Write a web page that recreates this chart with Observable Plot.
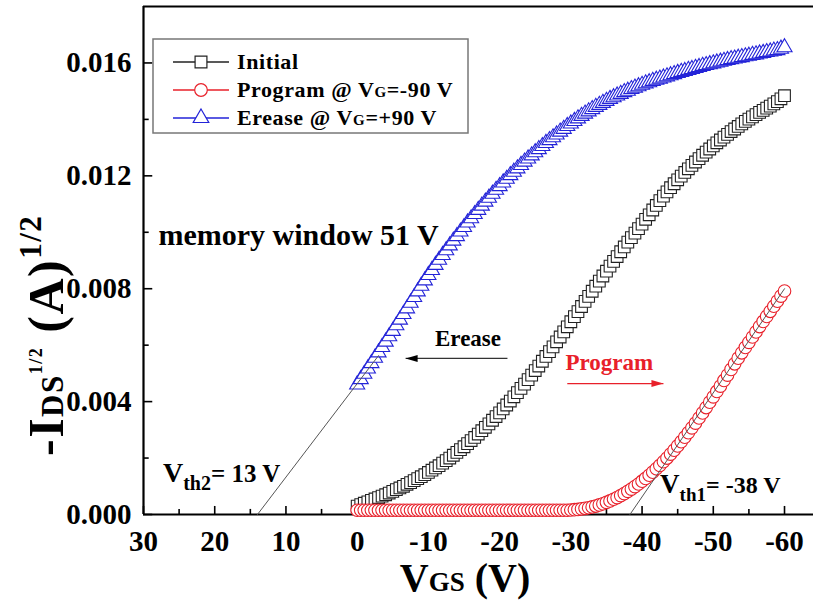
<!DOCTYPE html>
<html><head><meta charset="utf-8">
<script src="https://cdn.jsdelivr.net/npm/d3@7"></script>
<script src="https://cdn.jsdelivr.net/npm/@observablehq/plot@0.6"></script>
<style>body{margin:0;background:#fff} svg{display:block}</style>
</head><body><div id="chart"></div>
<script>
// Gate voltage sweep (V)
const vgs = [0,-0.5,-1,-1.5,-2,-2.5,-3,-3.5,-4,-4.5,-5,-5.5,-6,-6.5,-7,-7.5,-8,-8.5,-9,-9.5,
-10,-10.5,-11,-11.5,-12,-12.5,-13,-13.5,-14,-14.5,-15,-15.5,-16,-16.5,-17,-17.5,-18,-18.5,-19,-19.5,
-20,-20.5,-21,-21.5,-22,-22.5,-23,-23.5,-24,-24.5,-25,-25.5,-26,-26.5,-27,-27.5,-28,-28.5,-29,-29.5,
-30,-30.5,-31,-31.5,-32,-32.5,-33,-33.5,-34,-34.5,-35,-35.5,-36,-36.5,-37,-37.5,-38,-38.5,-39,-39.5,
-40,-40.5,-41,-41.5,-42,-42.5,-43,-43.5,-44,-44.5,-45,-45.5,-46,-46.5,-47,-47.5,-48,-48.5,-49,-49.5,
-50,-50.5,-51,-51.5,-52,-52.5,-53,-53.5,-54,-54.5,-55,-55.5,-56,-56.5,-57,-57.5,-58,-58.5,-59,-59.5,-60];
// -I_DS^1/2 (A^1/2)
const initial = [0.00030,0.00035,0.00040,0.00045,0.00050,0.00055,0.00060,0.00065,0.00070,0.00076,
0.00082,0.00088,0.00094,0.00100,0.00107,0.00113,0.00120,0.00127,0.00134,0.00141,
0.00149,0.00157,0.00165,0.00173,0.00182,0.00191,0.00200,0.00210,0.00220,0.00230,
0.00240,0.00251,0.00262,0.00273,0.00285,0.00297,0.00309,0.00321,0.00334,0.00347,
0.00360,0.00374,0.00388,0.00402,0.00417,0.00432,0.00447,0.00462,0.00478,0.00494,
0.00510,0.00526,0.00543,0.00560,0.00577,0.00594,0.00612,0.00629,0.00647,0.00665,
0.00683,0.00701,0.00719,0.00737,0.00755,0.00773,0.00791,0.00809,0.00827,0.00845,
0.00862,0.00880,0.00897,0.00914,0.00931,0.00948,0.00965,0.00981,0.00997,0.01013,
0.01029,0.01046,0.01062,0.01079,0.01095,0.01112,0.01128,0.01143,0.01158,0.01172,
0.01186,0.01199,0.01212,0.01225,0.01237,0.01249,0.01261,0.01273,0.01284,0.01295,
0.01306,0.01317,0.01327,0.01337,0.01347,0.01357,0.01366,0.01375,0.01384,0.01393,
0.01401,0.01409,0.01417,0.01425,0.01432,0.01440,0.01447,0.01455,0.01463,0.01473,
0.01484];
const program = [0.00015,0.00015,0.00015,0.00015,0.00015,0.00015,0.00015,0.00015,0.00015,0.00015,
0.00015,0.00015,0.00015,0.00015,0.00015,0.00015,0.00015,0.00015,0.00015,0.00015,
0.00015,0.00015,0.00015,0.00015,0.00015,0.00015,0.00015,0.00015,0.00015,0.00015,
0.00015,0.00015,0.00015,0.00015,0.00015,0.00015,0.00015,0.00015,0.00015,0.00015,
0.00015,0.00015,0.00015,0.00015,0.00015,0.00015,0.00015,0.00015,0.00015,0.00015,
0.00015,0.00015,0.00015,0.00015,0.00015,0.00015,0.00015,0.00015,0.00015,0.00015,
0.00016,0.00017,0.00018,0.00020,0.00022,0.00024,0.00027,0.00030,0.00034,0.00038,
0.00043,0.00048,0.00054,0.00060,0.00067,0.00074,0.00082,0.00090,0.00099,0.00108,
0.00118,0.00128,0.00139,0.00150,0.00162,0.00174,0.00187,0.00200,0.00214,0.00228,
0.00243,0.00258,0.00274,0.00290,0.00307,0.00324,0.00342,0.00360,0.00379,0.00398,
0.00417,0.00436,0.00455,0.00475,0.00494,0.00514,0.00534,0.00554,0.00573,0.00592,
0.00610,0.00629,0.00647,0.00666,0.00684,0.00702,0.00720,0.00738,0.00756,0.00774,
0.00792];
const erase = [0.00460,0.00479,0.00498,0.00517,0.00536,0.00555,0.00574,0.00593,0.00612,0.00631,
0.00650,0.00670,0.00690,0.00710,0.00730,0.00750,0.00770,0.00790,0.00810,0.00829,
0.00848,0.00866,0.00884,0.00902,0.00919,0.00936,0.00953,0.00970,0.00986,0.01002,
0.01018,0.01034,0.01049,0.01064,0.01079,0.01094,0.01108,0.01122,0.01136,0.01150,
0.01163,0.01176,0.01189,0.01202,0.01214,0.01226,0.01238,0.01250,0.01261,0.01272,
0.01283,0.01294,0.01305,0.01316,0.01326,0.01336,0.01346,0.01356,0.01366,0.01376,
0.01385,0.01394,0.01403,0.01412,0.01420,0.01428,0.01436,0.01444,0.01451,0.01458,
0.01465,0.01472,0.01478,0.01484,0.01490,0.01496,0.01501,0.01507,0.01512,0.01517,
0.01522,0.01527,0.01531,0.01536,0.01540,0.01544,0.01548,0.01552,0.01556,0.01560,
0.01564,0.01568,0.01571,0.01575,0.01578,0.01582,0.01585,0.01589,0.01592,0.01595,
0.01598,0.01601,0.01604,0.01607,0.01610,0.01613,0.01615,0.01618,0.01620,0.01623,
0.01625,0.01628,0.01630,0.01633,0.01635,0.01638,0.01640,0.01643,0.01645,0.01650,
0.01655];
// Threshold tangent lines
const eraseTanV = [14, -3];
const eraseTanI = [0, 0.00563];
const programTanV = [-38.3, -60];
const programTanI = [0, 0.0080];
// Axis ticks
const xMajor = [30,20,10,0,-10,-20,-30,-40,-50,-60];
const xMinor = [25,15,5,-5,-15,-25,-35,-45,-55];
const yMajor = [0,0.004,0.008,0.012,0.016];
const yMinor = [0.002,0.006,0.010,0.014];
// Annotation arrows
const eraseArrow = {x1: -21.1, x2: -6.8, y: 0.00553};
const programArrow = {x1: -29.5, x2: -43.0, y: 0.00464};

const rows = (ys) => vgs.map((v, i) => ({v, i: ys[i]}));
const FONT = "'Liberation Serif','Times New Roman',serif";
const BLACK = "#222", RED = "#e8202a", BLUE = "#2323d8";

const headLeft = {draw(ctx){ ctx.moveTo(0,0); ctx.lineTo(12,-3.5); ctx.lineTo(12,3.5); ctx.closePath(); }};
const headRight = {draw(ctx){ ctx.moveTo(0,0); ctx.lineTo(-12,-3.5); ctx.lineTo(-12,3.5); ctx.closePath(); }};

const xDom = [30, -64.07], yDom = [0, 0.018];
const chart = Plot.plot({
  width: 813, height: 602,
  marginLeft: 143, marginRight: 0, marginTop: 6, marginBottom: 88,
  x: {domain: xDom},
  y: {domain: yDom},
  style: {fontFamily: FONT, fontWeight: "bold", background: "white", color: "black"},
  marks: [
    Plot.axisX({ticks: xMajor, tickSize: 0, tickPadding: 16, tickFormat: d => String(d), label: null, fontSize: 29, fontWeight: "bold"}),
    Plot.axisY({ticks: yMajor, tickSize: 0, tickPadding: 12, tickFormat: d => d.toFixed(3), label: null, fontSize: 29, fontWeight: "bold"}),
    Plot.ruleX(xMajor, {x: d => d, y1: 0, y2: 0.000285, stroke: "black", strokeWidth: 1.6}),
    Plot.ruleX(xMinor, {x: d => d, y1: 0, y2: 0.00018, stroke: "black", strokeWidth: 1.6}),
    Plot.ruleY(yMajor, {y: d => d, x1: 30, x2: 28.7, stroke: "black", strokeWidth: 1.6}),
    Plot.ruleY(yMinor, {y: d => d, x1: 30, x2: 29.2, stroke: "black", strokeWidth: 1.6}),
    Plot.ruleY([0], {stroke: "black", strokeWidth: 2.2}),
    Plot.ruleY([0.018], {stroke: "black", strokeWidth: 2.2}),
    Plot.ruleX([30], {stroke: "black", strokeWidth: 2.2}),
    // series
    Plot.line(rows(initial), {x: "v", y: "i", stroke: BLACK, strokeWidth: 1}),
    Plot.dot(rows(initial), {x: "v", y: "i", symbol: "square", r: 6.6, fill: "white", stroke: BLACK, strokeWidth: 1.1}),
    Plot.line(rows(program), {x: "v", y: "i", stroke: RED, strokeWidth: 1}),
    Plot.dot(rows(program), {x: "v", y: "i", symbol: "circle", r: 6.3, fill: "white", stroke: RED, strokeWidth: 1.1}),
    Plot.line(rows(erase), {x: "v", y: "i", stroke: BLUE, strokeWidth: 1}),
    Plot.dot(rows(erase), {x: "v", y: "i", symbol: "triangle", r: 5.6, fill: "white", stroke: BLUE, strokeWidth: 1.1}),
    // tangents
    Plot.line(eraseTanV.map((v, k) => ({v, i: eraseTanI[k]})), {x: "v", y: "i", stroke: "#555", strokeWidth: 1}),
    Plot.line(programTanV.map((v, k) => ({v, i: programTanI[k]})), {x: "v", y: "i", stroke: "#555", strokeWidth: 1}),
    // arrows
    Plot.link([eraseArrow], {x1: "x1", x2: "x2", y1: "y", y2: "y", stroke: "#333", strokeWidth: 1.2}),
    Plot.dot([eraseArrow], {x: "x2", y: "y", symbol: headLeft, fill: "black", stroke: "none"}),
    Plot.link([programArrow], {x1: "x1", x2: "x2", y1: "y", y2: "y", stroke: RED, strokeWidth: 1.2}),
    Plot.dot([programArrow], {x: "x2", y: "y", symbol: headRight, fill: RED, stroke: "none"}),
    // texts
    Plot.text(["Erease"], {x: -15.56, y: 0.00624, text: d => d, fontSize: 23, fontWeight: "bold", fill: "black"}),
    Plot.text(["Program"], {x: -35.4, y: 0.00539, text: d => d, fontSize: 23, fontWeight: "bold", fill: RED}),
    Plot.text(["memory window 51 V"], {x: 27.9, y: 0.00989, text: d => d, fontSize: 30, fontWeight: "bold", textAnchor: "start", fill: "black"})
  ]
});

const svg = d3.select(chart);
const sx = chart.scale("x"), sy = chart.scale("y");

function rich(parent, x, y, parts, opts = {}) {
  const t = parent.append("text").attr("x", x).attr("y", y)
    .attr("font-family", FONT).attr("font-weight", "bold").attr("fill", opts.fill || "black")
    .attr("text-anchor", opts.anchor || "start");
  if (opts.transform) t.attr("transform", opts.transform);
  if (opts.spacing) t.attr("letter-spacing", opts.spacing);
  parts.forEach(p => {
    const s = t.append("tspan").text(p.t).attr("font-size", p.size);
    if (p.dy) s.attr("dy", p.dy);
  });
  return t;
}

// threshold labels
rich(svg, sx.apply(27.2), sy.apply(0.00113), [
  {t: "V", size: 28}, {t: "th2", size: 20, dy: 8}, {t: "= 13 V", size: 25, dy: -8}
]);
rich(svg, sx.apply(-42.6), sy.apply(0.00074), [
  {t: "V", size: 27}, {t: "th1", size: 19, dy: 8}, {t: "= -38 V", size: 24, dy: -8}
]);

// legend
const lg = svg.append("g");
lg.append("rect").attr("x", 153).attr("y", 39).attr("width", 315).attr("height", 94)
  .attr("fill", "white").attr("stroke", "#777").attr("stroke-width", 1.5);
const items = [
  {parts: [{t: "Initial", size: 22}], color: BLACK, sym: d3.symbolSquare, size: 140},
  {parts: [{t: "Program @ V", size: 22}, {t: "G", size: 15}, {t: "=-90 V", size: 22}], color: RED, sym: d3.symbolCircle, size: 125},
  {parts: [{t: "Erease @ V", size: 22}, {t: "G", size: 15}, {t: "=+90 V", size: 22}], color: BLUE, sym: d3.symbolTriangle, size: 105}
];
items.forEach((it, k) => {
  const y = 62 + k * 28;
  lg.append("line").attr("x1", 173).attr("x2", 229).attr("y1", y).attr("y2", y)
    .attr("stroke", it.color).attr("stroke-width", 1.5);
  lg.append("path").attr("d", d3.symbol(it.sym, it.size)()).attr("transform", `translate(201,${y})`)
    .attr("fill", "white").attr("stroke", it.color).attr("stroke-width", 1.2);
  rich(lg, 237, y + 7, it.parts, {spacing: 0.6});
});

// axis titles
rich(svg, 465, 591, [{t: "V", size: 40}, {t: "GS", size: 27}, {t: " (V)", size: 40}], {anchor: "middle"});
rich(svg, 0, 0, [
  {t: "-I", size: 50}, {t: "DS", size: 31}, {t: "1/2", size: 18, dy: -21},
  {t: " (A)", size: 50, dy: 21}, {t: "1/2", size: 31, dy: -22}
], {anchor: "start", spacing: 1.5, transform: "translate(63,456) rotate(-90)"});

document.getElementById("chart").appendChild(chart);
</script>
</body></html>
